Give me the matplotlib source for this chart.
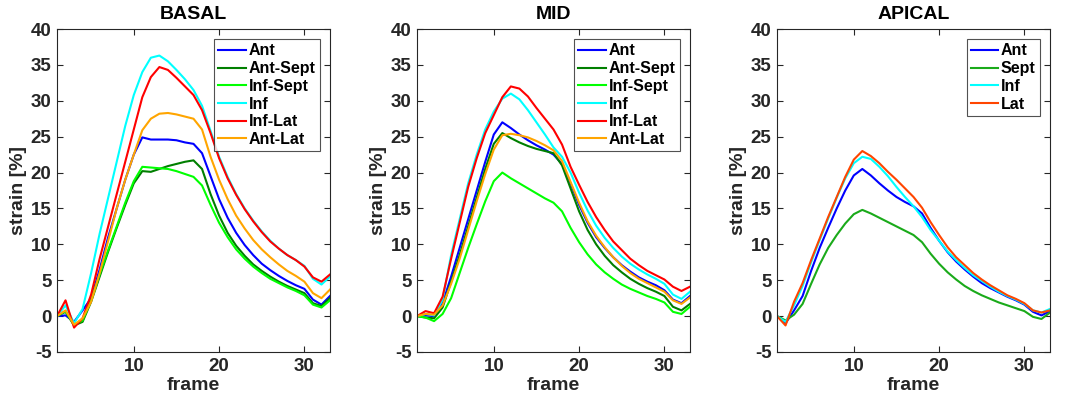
import numpy as np
import matplotlib
matplotlib.use('Agg')
import matplotlib.pyplot as plt

plt.rcParams['font.family'] = ['Liberation Sans', 'DejaVu Sans']
plt.rcParams['font.weight'] = 'bold'
plt.rcParams['axes.unicode_minus'] = False

# frame numbers
frames = np.arange(1, 34)

# BASAL segments
basal_labels = ['Ant', 'Ant-Sept', 'Inf-Sept', 'Inf', 'Inf-Lat', 'Ant-Lat']
basal_ant = [0, 0.1, -0.8, 0.8, 2.5, 6.5, 11, 15, 19, 22.5, 24.9, 24.6, 24.6, 24.6, 24.5, 24.2, 24.0, 22.7,
             19.5, 16.3, 13.7, 11.6, 9.9, 8.5, 7.3, 6.4, 5.6, 4.9, 4.3, 3.8, 2.3, 1.6, 2.8]
basal_antsept = [0, 0.6, -1.3, -0.8, 2, 5.5, 9, 12.3, 15.5, 18.5, 20.2, 20.1, 20.5, 20.9, 21.2, 21.5, 21.7, 20.5,
                 17.0, 14.0, 11.6, 9.8, 8.4, 7.2, 6.3, 5.5, 4.8, 4.2, 3.7, 3.2, 1.8, 1.4, 2.5]
basal_infsept = [0, 0.7, -1.2, -0.6, 2.2, 5.8, 9.2, 12.5, 15.8, 18.8, 20.8, 20.7, 20.6, 20.5, 20.2, 19.8, 19.4, 18.2,
                 15.5, 13.0, 11.0, 9.3, 8.0, 6.9, 6.0, 5.2, 4.6, 4.0, 3.5, 2.9, 1.6, 1.2, 2.2]
basal_inf = [0, 1.5, -1.0, 1.0, 6, 11.5, 16.5, 21.5, 26.5, 30.8, 34.0, 36.0, 36.3, 35.5, 34.3, 33.0, 31.5, 29.3,
             25.8, 22.2, 19.4, 17.0, 15.0, 13.3, 11.8, 10.5, 9.4, 8.5, 7.8, 7.0, 5.2, 4.4, 5.5]
basal_inflat = [0, 2.2, -1.6, -0.3, 3, 8, 12.5, 17, 21.5, 26, 30.5, 33.3, 34.7, 34.3, 33.2, 32.0, 30.8, 28.7,
                25.5, 22.0, 19.2, 16.9, 14.9, 13.2, 11.7, 10.4, 9.4, 8.5, 7.8, 6.9, 5.4, 4.8, 5.8]
basal_antlat = [0, 0.8, -1.2, -0.3, 2, 6, 10.5, 15, 19, 22.5, 25.9, 27.5, 28.2, 28.3, 28.1, 27.8, 27.5, 26.0,
                22.2, 19.0, 16.3, 14.0, 12.2, 10.6, 9.3, 8.2, 7.2, 6.3, 5.6, 4.8, 3.2, 2.5, 3.7]

# MID segments
mid_labels = ['Ant', 'Ant-Sept', 'Inf-Sept', 'Inf', 'Inf-Lat', 'Ant-Lat']
mid_ant = [0, 0.1, 0, 1.8, 5.5, 9.5, 13.5, 17.5, 21.5, 25.3, 27.0, 26.2, 25.3, 24.5, 23.8, 23.2, 22.5, 21.2,
           18.5, 15.5, 13.0, 11.0, 9.5, 8.2, 7.1, 6.2, 5.4, 4.8, 4.3, 3.6, 2.3, 1.8, 2.8]
mid_antsept = [0, -0.2, -0.3, 1.2, 4.8, 8.5, 12.5, 16.5, 20.5, 24.0, 25.5, 24.8, 24.2, 23.7, 23.3, 23.0, 22.7, 21.0,
               17.8, 14.6, 12.0, 10.0, 8.4, 7.1, 6.1, 5.2, 4.5, 3.9, 3.4, 2.8, 1.3, 0.8, 1.7]
mid_infsept = [0, -0.2, -0.7, 0.3, 2.5, 6, 9.5, 12.8, 16.0, 18.8, 20.0, 19.2, 18.5, 17.8, 17.1, 16.4, 15.8, 14.6,
               12.3, 10.3, 8.6, 7.2, 6.1, 5.2, 4.4, 3.8, 3.3, 2.8, 2.4, 1.9, 0.6, 0.3, 1.3]
mid_inf = [0, 0.3, 0.1, 2.3, 8.5, 13.5, 18.5, 22.5, 26.0, 28.5, 30.3, 31.0, 30.2, 28.7, 27.0, 25.3, 23.5, 22.2,
           20.0, 17.2, 14.7, 12.6, 10.9, 9.5, 8.3, 7.3, 6.5, 5.8, 5.2, 4.5, 3.0, 2.4, 3.4]
mid_inflat = [0, 0.7, 0.4, 2.7, 8, 13, 18, 22, 25.5, 28.0, 30.5, 32.0, 31.7, 30.6, 29.0, 27.5, 26.0, 23.9,
              20.8, 18.3, 15.9, 13.8, 12.0, 10.4, 9.2, 8.0, 7.1, 6.3, 5.7, 5.1, 4.1, 3.5, 4.1]
mid_antlat = [0, 0.3, 0.2, 1.5, 4.5, 8, 12, 16, 19.8, 23.2, 25.2, 25.4, 25.2, 24.9, 24.4, 23.8, 23.1, 21.6,
              18.7, 15.8, 13.2, 11.2, 9.6, 8.2, 7.0, 6.0, 5.2, 4.6, 4.0, 3.4, 2.2, 1.7, 2.6]

# APICAL segments
apical_labels = ['Ant', 'Sept', 'Inf', 'Lat']
apical_ant = [0, -1.0, 0.8, 2.8, 6.3, 9.5, 12.3, 15.0, 17.5, 19.6, 20.5, 19.6, 18.5, 17.5, 16.6, 15.9, 15.3, 14.3,
              12.3, 10.5, 8.9, 7.6, 6.5, 5.5, 4.6, 3.9, 3.3, 2.7, 2.2, 1.6, 0.6, 0.1, 0.7]
apical_sept = [0, -0.6, 0.2, 1.7, 4.5, 7.2, 9.5, 11.3, 12.9, 14.2, 14.8, 14.3, 13.7, 13.1, 12.5, 11.9, 11.3, 10.3,
               8.7, 7.3, 6.1, 5.1, 4.2, 3.5, 2.9, 2.4, 1.9, 1.5, 1.1, 0.7, -0.1, -0.4, 0.5]
apical_inf = [0, -0.8, 1.5, 4.2, 7.5, 10.6, 13.6, 16.5, 19.2, 21.3, 22.2, 21.9, 20.8, 19.5, 18.0, 16.6, 15.3, 13.8,
              12.0, 10.5, 9.0, 7.8, 6.7, 5.7, 4.9, 4.1, 3.4, 2.8, 2.3, 1.7, 0.8, 0.5, 1.0]
apical_lat = [0, -1.3, 2.0, 4.6, 7.8, 10.8, 13.8, 16.6, 19.4, 21.8, 23.0, 22.3, 21.3, 20.1, 19.0, 17.8, 16.6, 15.1,
              13.1, 11.3, 9.6, 8.2, 7.1, 6.0, 5.1, 4.3, 3.6, 2.9, 2.4, 1.8, 0.8, 0.5, 0.8]

six_colors = ['#0000ff', '#007f00', '#00ff00', '#00ffff', '#ff0000', '#ffa500']
four_colors = ['#0000ff', '#1aaa1a', '#00ffff', '#ff4500']

panels = [
    ('BASAL', basal_labels, [basal_ant, basal_antsept, basal_infsept, basal_inf, basal_inflat, basal_antlat], six_colors),
    ('MID', mid_labels, [mid_ant, mid_antsept, mid_infsept, mid_inf, mid_inflat, mid_antlat], six_colors),
    ('APICAL', apical_labels, [apical_ant, apical_sept, apical_inf, apical_lat], four_colors),
]

W, H = 1069, 399
fig = plt.figure(figsize=(W / 100, H / 100), dpi=100)
lefts = [57, 417, 777]
dark = '#262626'
ax_w, ax_h = 273, 323

for left, (title, labels, series, colors) in zip(lefts, panels):
    ax = fig.add_axes([left / W, 47 / H, ax_w / W, ax_h / H])
    for vals, lab, c in zip(series, labels, colors):
        ax.plot(frames, vals, color=c, lw=1.5, label=lab)
    ax.set_xlim(1, 33)
    ax.set_ylim(-5, 40)
    ax.set_xticks([10, 20, 30])
    ax.set_yticks(np.arange(-5, 41, 5))
    ax.tick_params(direction='in', top=True, right=True, length=4, width=0.8,
                   color=dark, labelcolor=dark, labelsize=13.5, pad=4)
    for lbl in ax.get_xticklabels() + ax.get_yticklabels():
        lbl.set_fontweight('bold')
    for s in ax.spines.values():
        s.set_color(dark)
        s.set_linewidth(0.8)
    ax.set_title(title, fontsize=14, fontweight='bold', color='black', pad=7)
    ax.set_xlabel('frame', fontsize=14, fontweight='bold', color=dark)
    ax.set_ylabel('strain [%]', fontsize=14, fontweight='bold', color=dark)
    ax.xaxis.set_label_coords(0.5, -25 / ax_h)
    ax.yaxis.set_label_coords(-30 / ax_w, 0.5)
    leg = ax.legend(loc='upper right', fontsize=11.5, frameon=True, fancybox=False,
                    edgecolor=dark, borderaxespad=0.65, handlelength=1.75,
                    handletextpad=0.15, labelspacing=0.17, borderpad=0.25)
    leg.get_frame().set_linewidth(0.8)
    for t in leg.get_texts():
        t.set_fontweight('bold')

fig.savefig('out.png', dpi=100)
